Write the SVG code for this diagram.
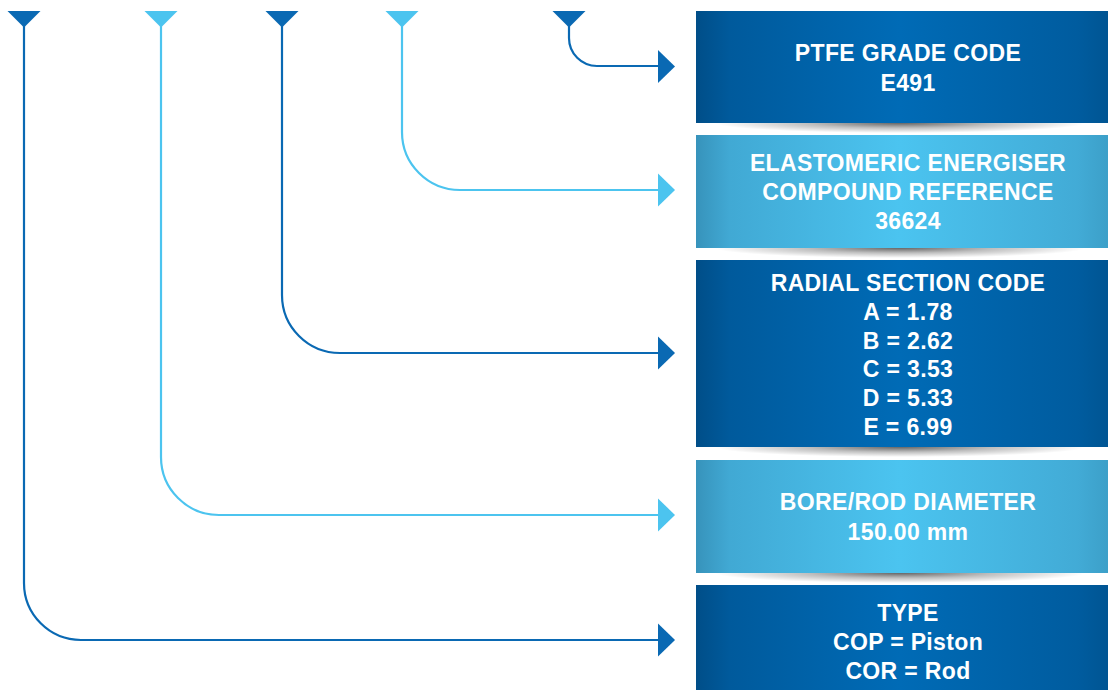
<svg xmlns="http://www.w3.org/2000/svg" width="1108" height="690" viewBox="0 0 1108 690">
  <style>
    .lbl { font-family: "Liberation Sans", Arial, Helvetica, sans-serif; font-weight: bold; font-size: 23px; letter-spacing: 0.35px; fill: #ffffff; text-anchor: middle; }
    .wire { fill: none; stroke-width: 2.2; }
    .dark { stroke: #0a69b3; }
    .light { stroke: #4cc4ef; }
  </style>
  <defs>
    <linearGradient id="gDark" x1="0" y1="0" x2="1" y2="0">
      <stop offset="0" stop-color="#004e88"/>
      <stop offset="0.08" stop-color="#005a9c"/>
      <stop offset="0.48" stop-color="#006bb6"/>
      <stop offset="0.9" stop-color="#005c9f"/>
      <stop offset="1" stop-color="#00528e"/>
    </linearGradient>
    <linearGradient id="gLight" x1="0" y1="0" x2="1" y2="0">
      <stop offset="0" stop-color="#3793bb"/>
      <stop offset="0.08" stop-color="#41a9d4"/>
      <stop offset="0.48" stop-color="#4bc4f0"/>
      <stop offset="0.9" stop-color="#42abd6"/>
      <stop offset="1" stop-color="#3a9bc3"/>
    </linearGradient>
    <radialGradient id="gShadow" cx="0.5" cy="0.5" r="0.5">
      <stop offset="0" stop-color="#000" stop-opacity="0.6"/>
      <stop offset="0.5" stop-color="#000" stop-opacity="0.25"/>
      <stop offset="1" stop-color="#000" stop-opacity="0"/>
    </radialGradient>
    <polygon id="tipDown" points="-16.5,0 16.5,0 0,16.5"/>
    <polygon id="arrowR" points="0,-16.5 17,0 0,16.5"/>
  </defs>

  <!-- connectors -->
  <g id="connectors">
    <path class="wire dark" d="M24,24 V583 A57,57 0 0 0 81,640 H660"/>
    <path class="wire light" d="M161,24 V457 A58,58 0 0 0 219,515 H660"/>
    <path class="wire dark" d="M282,24 V295 A58,58 0 0 0 340,353 H660"/>
    <path class="wire light" d="M402,24 V132 A58,58 0 0 0 460,190 H660"/>
    <path class="wire dark" d="M569,24 V38 A28,28 0 0 0 597,66 H660"/>

    <use href="#tipDown" x="24" y="11" fill="#0a69b3"/>
    <use href="#tipDown" x="161" y="11" fill="#4cc4ef"/>
    <use href="#tipDown" x="282" y="11" fill="#0a69b3"/>
    <use href="#tipDown" x="402" y="11" fill="#4cc4ef"/>
    <use href="#tipDown" x="569" y="11" fill="#0a69b3"/>

    <use href="#arrowR" x="658" y="66.5" fill="#0a69b3"/>
    <use href="#arrowR" x="658" y="190" fill="#4cc4ef"/>
    <use href="#arrowR" x="658" y="353" fill="#0a69b3"/>
    <use href="#arrowR" x="658" y="515" fill="#4cc4ef"/>
    <use href="#arrowR" x="658" y="640" fill="#0a69b3"/>
  </g>

  <!-- soft shadows beneath the boxes -->
  <g id="shadows">
    <rect x="715" y="113" width="370" height="20" fill="url(#gShadow)"/>
    <rect x="715" y="238" width="370" height="20" fill="url(#gShadow)"/>
    <rect x="715" y="437" width="370" height="20" fill="url(#gShadow)"/>
    <rect x="715" y="563" width="370" height="20" fill="url(#gShadow)"/>
  </g>

  <g id="ptfe-grade">
    <rect x="696" y="11" width="424" height="112" fill="url(#gDark)"/>
    <text class="lbl" x="908" y="61">PTFE GRADE CODE</text>
    <text class="lbl" x="908" y="91">E491</text>
  </g>

  <g id="energiser">
    <rect x="696" y="135" width="424" height="113" fill="url(#gLight)"/>
    <text class="lbl" x="908" y="171">ELASTOMERIC ENERGISER</text>
    <text class="lbl" x="908" y="200">COMPOUND REFERENCE</text>
    <text class="lbl" x="908" y="229">36624</text>
  </g>

  <g id="radial-section">
    <rect x="696" y="260" width="424" height="187" fill="url(#gDark)"/>
    <text class="lbl" x="908" y="291">RADIAL SECTION CODE</text>
    <text class="lbl" x="908" y="320">A = 1.78</text>
    <text class="lbl" x="908" y="349">B = 2.62</text>
    <text class="lbl" x="908" y="377">C = 3.53</text>
    <text class="lbl" x="908" y="406">D = 5.33</text>
    <text class="lbl" x="908" y="435">E = 6.99</text>
  </g>

  <g id="diameter">
    <rect x="696" y="460" width="424" height="113" fill="url(#gLight)"/>
    <text class="lbl" x="908" y="510">BORE/ROD DIAMETER</text>
    <text class="lbl" x="908" y="540">150.00 mm</text>
  </g>

  <g id="type">
    <rect x="696" y="585" width="424" height="113" fill="url(#gDark)"/>
    <text class="lbl" x="908" y="621">TYPE</text>
    <text class="lbl" x="908" y="650">COP = Piston</text>
    <text class="lbl" x="908" y="679">COR = Rod</text>
  </g>
</svg>
